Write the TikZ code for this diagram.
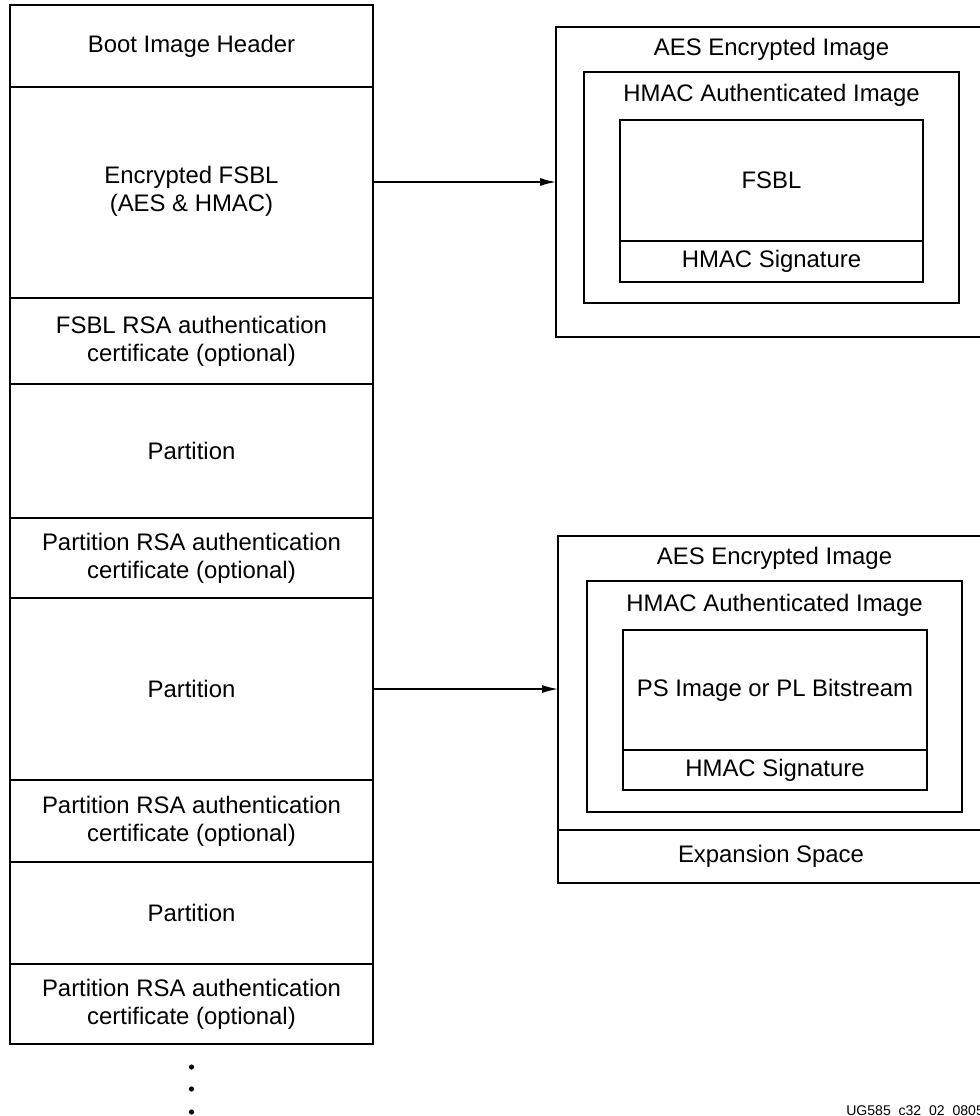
\documentclass[tikz,border=0pt]{standalone}
\usepackage{fontspec}
\setmainfont{Liberation Sans}
\usepackage{tikz}
\usetikzlibrary{arrows.meta, positioning}

\begin{document}
\begin{tikzpicture}[
    x=0.25mm, y=-0.25mm,
    node distance=0pt,
    cell/.style={rectangle, draw=black, line width=1.6pt, outer sep=0pt,
                minimum width=90.75mm, font=\fontsize{17}{20}\selectfont, align=center},
    frame/.style={rectangle, draw=black, line width=1.6pt, outer sep=0pt,
                font=\fontsize{17}{20}\selectfont, align=center},
    title/.style={font=\fontsize{17}{20}\selectfont, inner sep=0pt},
    arr/.style={-{Latex[length=4mm, width=2mm]}, line width=1pt}
]
\useasboundingbox (0,0) rectangle (980,1116);

% boot image layout
\node[cell, minimum height=20.5mm, anchor=north west] (hdr) at (10,5) {Boot Image Header};
\node[cell, minimum height=52.75mm, below=of hdr]    (efsbl)  {\raisebox{1.7mm}{Encrypted FSBL}\\\raisebox{1.7mm}{(AES \& HMAC)}};
\node[cell, minimum height=21.5mm,  below=of efsbl]  (fcert)  {FSBL RSA authentication\\certificate (optional)};
\node[cell, minimum height=33.5mm,  below=of fcert]  (part1)  {Partition};
\node[cell, minimum height=20mm,    below=of part1]  (pcert1) {Partition RSA authentication\\certificate (optional)};
\node[cell, minimum height=45.5mm,  below=of pcert1] (part2)  {Partition};
\node[cell, minimum height=20.5mm,  below=of part2]  (pcert2) {Partition RSA authentication\\certificate (optional)};
\node[cell, minimum height=25.5mm,  below=of pcert2] (part3)  {Partition};
\node[cell, minimum height=20mm,    below=of part3]  (pcert3) {Partition RSA authentication\\certificate (optional)};

\foreach \y in {1067,1089,1112}
  \fill (191.5,\y) circle (0.65mm);

% FSBL image
\node[frame, minimum width=107mm, minimum height=77.5mm, anchor=north west] (aesA) at (556,27) {};
\node[frame, minimum width=93.75mm, minimum height=57.75mm, anchor=north west] (hmacA) at (584,72) {};
\node[title] (aesAt) at (hmacA |- 0,49) {AES Encrypted Image};
\node[title] (hmacAt) at (hmacA |- 0,95) {HMAC Authenticated Image};
\node[frame, minimum width=75.75mm, minimum height=30.25mm, anchor=north west] (fsblA) at (620,120) {FSBL};
\node[frame, minimum width=75.75mm, minimum height=10.25mm, below=of fsblA] (sigA) {HMAC Signature};

% partition image
\node[frame, minimum width=106.5mm, minimum height=73.5mm, anchor=north west] (aesB) at (558,536) {};
\node[frame, minimum width=106.5mm, minimum height=13.25mm, below=of aesB] (expB) {Expansion Space};
\node[frame, minimum width=93.75mm, minimum height=57.75mm, anchor=north west] (hmacB) at (587,581) {};
\node[title] (aesBt) at (hmacB |- 0,558) {AES Encrypted Image};
\node[title] (hmacBt) at (hmacB |- 0,605) {HMAC Authenticated Image};
\node[frame, minimum width=76mm, minimum height=30mm, anchor=north west] (psB) at (623,630) {PS Image or PL Bitstream};
\node[frame, minimum width=76mm, minimum height=10mm, below=of psB] (sigB) {HMAC Signature};

\draw[arr] (aesA.west -| efsbl.east) -- (aesA.west);
\draw[arr] (part2.east) -- (part2.east -| aesB.west);

\node[font=\fontsize{10}{11}\selectfont, inner sep=0pt, anchor=south west] (fig) at (846,1119) {UG585\_c32\_02\_080513};
\end{tikzpicture}
\end{document}
